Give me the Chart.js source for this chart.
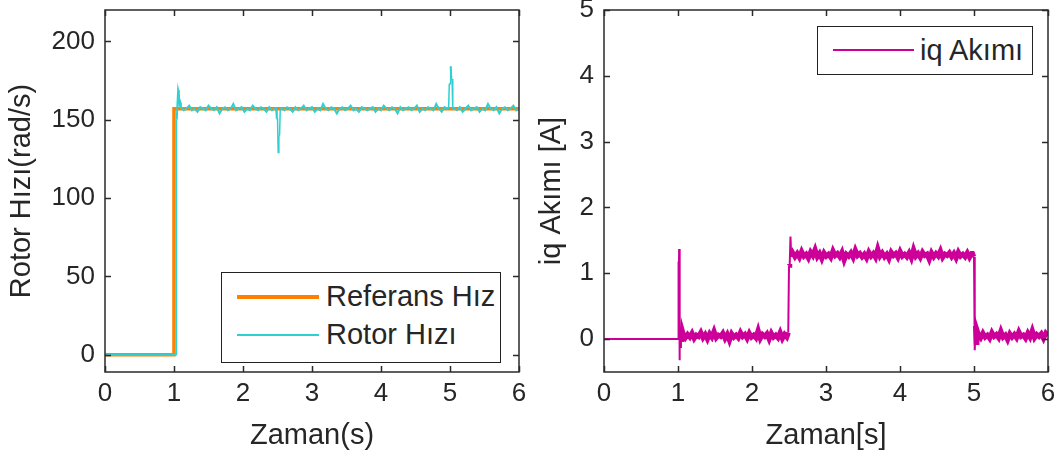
<!DOCTYPE html>
<html lang="tr">
<head>
    <meta charset="UTF-8">
    <title>Rotor Hızı ve iq Akımı</title>
    <script src="https://cdn.jsdelivr.net/npm/chart.js"></script>
    <style>
        body { margin: 0; background: #fff; width: 1057px; height: 456px; position: relative; overflow: hidden; }
        .panel { position: absolute; top: 0; }
        .legend { position: absolute; border: 1.5px solid #222; background: #fff; box-sizing: border-box;
                  font-family: 'Liberation Sans', Arial, sans-serif; font-size: 29px; color: #262626; }
        .legend .line { position: absolute; }
        .legend .label { position: absolute; line-height: 28px; white-space: nowrap; }
    </style>
</head>
<body>
    <div class="panel" style="left:0"><canvas id="speedChart" width="530" height="456"></canvas></div>
    <div class="panel" style="left:530px"><canvas id="iqChart" width="527" height="456"></canvas></div>

    <!-- legend boxes (MATLAB style, inside the axes) -->
    <div class="legend" style="left:221px; top:272px; width:280px; height:91px">
        <div class="line" style="left:15px; top:22px; width:82px; height:4px; background:#ff7f00"></div>
        <div class="label" style="left:104px; top:9px">Referans Hız</div>
        <div class="line" style="left:15px; top:61px; width:82px; height:2px; background:#30d0d0"></div>
        <div class="label" style="left:104px; top:47px">Rotor Hızı</div>
    </div>
    <div class="legend" style="left:817px; top:26px; width:216px; height:49px">
        <div class="line" style="left:15px; top:22px; width:81px; height:2px; background:#cc0099"></div>
        <div class="label" style="left:102px; top:9px">iq Akımı</div>
    </div>

    <script>
        // axis ticks
        const timeTicks = [0, 1, 2, 3, 4, 5, 6];
        const speedTicks = [0, 50, 100, 150, 200];
        const iqTicks = [0, 1, 2, 3, 4, 5];

        // reference speed (rad/s)
        const refTime = [0, 1.0, 1.0, 6.0];
        const refSpeed = [0, 0, 157, 157];

        // measured rotor speed: transients with explicit times, noisy stretches sampled evenly
        const rotorRiseT = [0, 1.03, 1.03, 1.04, 1.05, 1.06, 1.07, 1.08, 1.09];
        const rotorRiseV = [0, 0, 78, 150, 160, 169, 167, 160, 161];
        const rotorNoiseA = [158, 156, 157, 159, 156, 157, 155, 158, 157, 156, 159, 157, 156, 158, 154, 157, 158, 156,
            157, 160, 156, 157, 158, 155, 157, 156, 159, 157, 156, 158, 157, 155, 158, 156, 157];          // 1.10 - 2.46
        const rotorDipT = [2.48, 2.49, 2.50, 2.51, 2.52, 2.53, 2.54];
        const rotorDipV = [157, 151, 151, 129, 140, 140, 157];
        const rotorNoiseB = [157, 156, 158, 157, 155, 158, 156, 157, 159, 156, 157, 158, 155, 157, 156, 160, 157, 156,
            158, 157, 154, 157, 158, 156, 157, 159, 156, 157, 155, 158, 157, 156, 157, 158, 155, 157, 156, 159, 157, 156,
            158, 157, 154, 158, 156, 157, 158, 156, 157, 159, 155, 157, 156, 158, 157, 156, 160, 157, 155, 158, 157]; // 2.56 - 4.96
        const rotorSpikeT = [4.98, 4.99, 5.00, 5.01, 5.02, 5.03, 5.04];
        const rotorSpikeV = [157, 173, 173, 184, 176, 176, 157];
        const rotorNoiseC = [157, 156, 158, 155, 157, 159, 156, 157, 158, 155, 157, 156, 160, 157, 156, 158, 154, 157,
            158, 156, 157, 159, 156, 157];                                                            // 5.06 - 6.00

        // iq current (A)
        const iqStartT = [0, 1.0, 1.005, 1.01, 1.015, 1.02, 1.025, 1.03, 1.04, 1.05, 1.06];
        const iqStartV = [0, 0, 1.18, 0.5, 1.37, -0.32, 0.25, -0.12, 0.16, -0.04, 0.12];
        const iqNoise1 = [0.08, 0.02, 0.07, 0.03, 0.09, 0.01, 0.06, 0.04, 0.10, 0.02, 0.07, 0.00, 0.08, 0.03, 0.12,
            0.02, 0.06, 0.04, 0.09, 0.01, 0.07, -0.02, 0.08, 0.03, 0.06, 0.02, 0.10, 0.04, 0.07, 0.01, 0.09, 0.03,
            0.06, 0.02, 0.13, 0.01, 0.07, 0.04, 0.08, 0.00, 0.09, 0.03, 0.06, 0.02, 0.10, 0.01, 0.07, 0.03]; // 1.07 - 2.47
        const iqUpT = [2.48, 2.49, 2.50, 2.51, 2.52, 2.53];
        const iqUpV = [0.06, 0.10, 1.12, 1.14, 1.56, 1.25];
        const iqNoise2 = [1.31, 1.25, 1.30, 1.24, 1.33, 1.26, 1.29, 1.23, 1.32, 1.27, 1.36, 1.25, 1.30, 1.22, 1.31, 1.26,
            1.29, 1.24, 1.34, 1.27, 1.30, 1.25, 1.32, 1.20, 1.29, 1.26, 1.31, 1.24, 1.35, 1.27, 1.30, 1.25, 1.29, 1.23,
            1.32, 1.26, 1.30, 1.24, 1.37, 1.26, 1.31, 1.25, 1.29, 1.22, 1.32, 1.27, 1.30, 1.24, 1.33, 1.26, 1.29, 1.25,
            1.31, 1.23, 1.36, 1.26, 1.30, 1.24, 1.32, 1.27, 1.29, 1.21, 1.31, 1.25, 1.30, 1.26, 1.34, 1.24, 1.29, 1.27,
            1.31, 1.25, 1.30, 1.23, 1.32, 1.26, 1.29, 1.25, 1.31, 1.24, 1.30];                            // 2.55 - 4.97
        const iqDownT = [4.98, 4.99, 5.00, 5.01, 5.02, 5.03, 5.04];
        const iqDownV = [1.30, 1.27, 1.25, -0.17, 0.20, -0.05, 0.14];
        const iqNoise3 = [0.07, 0.02, 0.09, 0.03, 0.06, 0.01, 0.10, 0.04, 0.07, 0.02, 0.12, 0.03, 0.06, -0.01, 0.08,
            0.03, 0.07, 0.02, 0.11, 0.04, 0.06, 0.01, 0.09, 0.03, 0.13, 0.02, 0.07, 0.04, 0.08, 0.01, 0.09, 0.05]; // 5.06 - 6.00

        const FONT = "'Liberation Sans', Arial, sans-serif";
        const TEXT = '#262626';

        function pairs(ts, vs) {
            return ts.map((t, i) => ({ x: t, y: vs[i] }));
        }

        // evenly spaced samples between two times
        function samples(t0, t1, vs) {
            return vs.map((v, i) => ({ x: t0 + (t1 - t0) * i / (vs.length - 1), y: v }));
        }

        // thin line on the steep jumps and the quiet start, thicker on the noisy plateaus
        function jumpWidth(limit, thin, thick) {
            return ctx => (Math.abs(ctx.p1.parsed.y - ctx.p0.parsed.y) > limit || ctx.p1.parsed.x <= 1.0) ? thin : thick;
        }

        // box around the axes and inward tick marks, like MATLAB
        const boxTicks = {
            id: 'boxTicks',
            afterDraw(chart) {
                const { ctx, chartArea: a, scales: { x, y } } = chart;
                ctx.save();
                ctx.strokeStyle = '#2a2a2a';
                ctx.lineWidth = 1.5;
                ctx.strokeRect(a.left, a.top, a.right - a.left, a.bottom - a.top);
                ctx.beginPath();
                x.ticks.forEach(t => {
                    const px = Math.round(x.getPixelForValue(t.value)) + 0.5;
                    ctx.moveTo(px, a.bottom); ctx.lineTo(px, a.bottom - 6);
                    ctx.moveTo(px, a.top); ctx.lineTo(px, a.top + 6);
                });
                y.ticks.forEach(t => {
                    const py = Math.round(y.getPixelForValue(t.value)) + 0.5;
                    ctx.moveTo(a.left, py); ctx.lineTo(a.left + 6, py);
                    ctx.moveTo(a.right, py); ctx.lineTo(a.right - 6, py);
                });
                ctx.stroke();
                ctx.restore();
            }
        };

        function makeOptions(yMin, yMax, yTickList, yTitle, xTitle, yWidth, padRight) {
            return {
                responsive: false,
                animation: false,
                layout: { padding: { top: 10, right: padRight, left: 0, bottom: 0 } },
                plugins: { legend: { display: false }, tooltip: { enabled: false } },
                elements: { point: { radius: 0 }, line: { tension: 0 } },
                scales: {
                    x: {
                        type: 'linear', min: 0, max: 6,
                        grid: { display: false, drawTicks: false },
                        border: { display: false },
                        afterBuildTicks: s => { s.ticks = timeTicks.map(v => ({ value: v })); },
                        afterFit: s => { s.height = 84; s.paddingLeft = 0; s.paddingRight = 0; },
                        ticks: { autoSkip: false, maxRotation: 0, padding: 6, color: TEXT, font: { family: FONT, size: 26 } },
                        title: { display: true, text: xTitle, color: TEXT, padding: { top: 0, bottom: 3 }, font: { family: FONT, size: 29 } }
                    },
                    y: {
                        min: yMin, max: yMax,
                        grid: { display: false, drawTicks: false },
                        border: { display: false },
                        afterBuildTicks: s => { s.ticks = yTickList.map(v => ({ value: v })); },
                        afterFit: s => { s.width = yWidth; s.paddingTop = 0; s.paddingBottom = 0; },
                        ticks: { autoSkip: false, padding: 10, color: TEXT, font: { family: FONT, size: 26 } },
                        title: { display: true, text: yTitle, color: TEXT, padding: { top: 5, bottom: 0 }, font: { family: FONT, size: 29 } }
                    }
                }
            };
        }

        const rotorPoints = [].concat(
            pairs(rotorRiseT, rotorRiseV),
            samples(1.10, 2.46, rotorNoiseA),
            pairs(rotorDipT, rotorDipV),
            samples(2.56, 4.96, rotorNoiseB),
            pairs(rotorSpikeT, rotorSpikeV),
            samples(5.06, 6.00, rotorNoiseC)
        );

        new Chart(document.getElementById('speedChart'), {
            type: 'line',
            data: {
                datasets: [
                    { label: 'Referans Hız', data: pairs(refTime, refSpeed), borderColor: '#ff7f00', borderWidth: 3.5, order: 2 },
                    {
                        label: 'Rotor Hızı', data: rotorPoints, borderColor: '#30d0d0', borderWidth: 2, order: 1,
                        segment: { borderWidth: jumpWidth(10, 1.5, 2) }
                    }
                ]
            },
            options: makeOptions(-11, 220, speedTicks, 'Rotor Hızı(rad/s)', 'Zaman(s)', 105, 11),
            plugins: [boxTicks]
        });

        const iqPoints = [].concat(
            pairs(iqStartT, iqStartV),
            samples(1.07, 2.47, iqNoise1),
            pairs(iqUpT, iqUpV),
            samples(2.55, 4.97, iqNoise2),
            pairs(iqDownT, iqDownV),
            samples(5.06, 6.00, iqNoise3)
        );

        new Chart(document.getElementById('iqChart'), {
            type: 'line',
            data: {
                datasets: [
                    {
                        label: 'iq Akımı', data: iqPoints, borderColor: '#cc0099', borderWidth: 5,
                        segment: { borderWidth: jumpWidth(0.25, 2, 5) }
                    }
                ]
            },
            options: makeOptions(-0.5, 5, iqTicks, 'iq Akımı [A]', 'Zaman[s]', 74, 9),
            plugins: [boxTicks]
        });
    </script>
</body>
</html>
